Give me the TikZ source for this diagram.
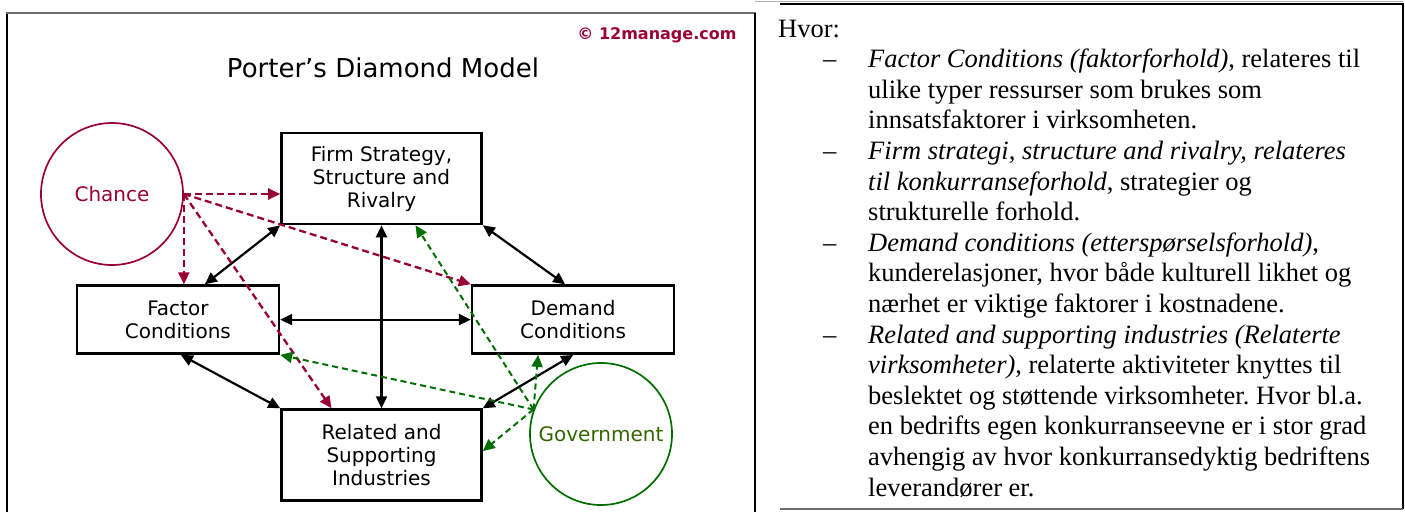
\documentclass[tikz,border=0pt]{standalone}
\usepackage{fontspec}
\setmainfont{Liberation Serif}
\setsansfont{DejaVu Sans}
\usepackage{tikz}
\usetikzlibrary{arrows.meta, positioning, calc}
\definecolor{pdRed}{RGB}{153,0,51}
\definecolor{pdGreen}{RGB}{0,110,0}
\definecolor{pdOlive}{RGB}{51,102,0}
\definecolor{pdGrey}{RGB}{110,110,110}
\frenchspacing

\begin{document}
\begin{tikzpicture}[x=1pt,y=-1pt,font=\sffamily\fontsize{20}{23}\selectfont,
  B/.style={draw=black,line width=2.6pt,align=center,inner sep=0pt,
            minimum width=200pt,minimum height=91pt},
  C/.style={circle,line width=1.7pt,minimum size=142pt,inner sep=0pt},
  arr/.style={{Triangle[length=12pt,width=11pt]}-{Triangle[length=12pt,width=11pt]},
              line width=2.2pt},
  chc/.style={-{Triangle[length=12pt,width=11pt]},line width=2.3pt,draw=pdRed,
              dash pattern=on 7pt off 4pt},
  gov/.style={-{Triangle[length=12pt,width=11pt]},line width=2pt,draw=pdGreen,
              dash pattern=on 6pt off 4pt}]
\useasboundingbox (0,0) rectangle (1405,512);

% frames
\draw[line width=2pt] (7,512) -- (7,13);
\draw[pdGrey,line width=2pt] (6,13) -- (756,13);
\draw[line width=1.6pt] (755,13) -- (755,512);
\draw[black!30,line width=1pt] (755,1.5) -- (1403,1.5);
\draw[line width=2pt] (780,3.5) -- (1403,3.5) -- (1403,509);
\draw[pdGrey,line width=2pt] (780,509) -- (1403,509);

% diamond
\node[pdRed,anchor=east,font=\sffamily\bfseries\fontsize{16}{18}\selectfont]
  (Copy) at (740,35) {\textcopyright\ 12manage.com};
\node[font=\sffamily\fontsize{26}{30}\selectfont] (Title) at (383,68)
  {Porter’s Diamond Model};

\node[B] (Firm) at (381.5,178.5) {Firm Strategy,\\Structure and\\Rivalry};
\node[B,minimum width=202pt,minimum height=68pt,
      below left=59pt and 0pt of Firm] (Factor) {Factor\\Conditions};
\node[B,minimum width=202pt,minimum height=68pt,
      below right=59pt and -12pt of Firm] (Demand) {Demand\\Conditions};
\node[B,below=183pt of Firm] (Related) {Related and\\Supporting\\Industries};

\node[C,draw=pdRed,text=pdRed] (Chance) at (112,194) {Chance};
\node[C,draw=pdGreen,text=pdOlive] (Gov) at (601,434) {Government};

\draw[arr] (Firm.south west) -- ([xshift=27pt]Factor.north);
\draw[arr] (Firm.south east) -- ([xshift=-8pt]Demand.north);
\draw[arr] ([xshift=3pt]Factor.south) -- (Related.north west);
\draw[arr] (Demand.south) -- (Related.north east);
\draw[arr] (Firm.south) -- (Related.north);
\draw[arr] (Factor.east) -- (Demand.west);

% chance
\draw[chc] (Chance.east) -- (Chance.east -| Firm.west);
\draw[chc] (Chance.east) -- (Chance.east |- Factor.north);
\draw[chc] (Chance.east) -- (Demand.north west);
\draw[chc] (Chance.east) -- ([xshift=-50pt]Related.north);

% government
\coordinate (GovOut) at (Gov.160);
\draw[gov] (GovOut) -- ([xshift=34pt]Firm.south);
\draw[gov] (GovOut) -- ([xshift=-35pt]Demand.south);
\draw[gov] (GovOut) -- (Factor.south east);
\draw[gov] (GovOut) -- ([yshift=4pt]Related.east);

% notes
\node[anchor=north west,inner sep=0pt,align=left,
      font=\rmfamily\fontsize{26.5}{30.6}\selectfont] (Notes) at (778,19.5)
  {Hvor:\\
   \hspace*{45pt}\makebox[45pt][l]{–}\textit{Factor Conditions (faktorforhold)}, relateres til\\
   \hspace*{90pt}ulike typer ressurser som brukes som\\
   \hspace*{90pt}innsatsfaktorer i virksomheten.\\
   \hspace*{45pt}\makebox[45pt][l]{–}\textit{Firm strategi, structure and rivalry, relateres}\\
   \hspace*{90pt}\textit{til konkurranseforhold}, strategier og\\
   \hspace*{90pt}strukturelle forhold.\\
   \hspace*{45pt}\makebox[45pt][l]{–}\textit{Demand conditions (etterspørselsforhold)},\\
   \hspace*{90pt}kunderelasjoner, hvor både kulturell likhet og\\
   \hspace*{90pt}nærhet er viktige faktorer i kostnadene.\\
   \hspace*{45pt}\makebox[45pt][l]{–}\textit{Related and supporting industries (Relaterte}\\
   \hspace*{90pt}\textit{virksomheter)}, relaterte aktiviteter knyttes til\\
   \hspace*{90pt}beslektet og støttende virksomheter. Hvor bl.a.\\
   \hspace*{90pt}en bedrifts egen konkurranseevne er i stor grad\\
   \hspace*{90pt}avhengig av hvor konkurransedyktig bedriftens\\
   \hspace*{90pt}leverandører er.};
\end{tikzpicture}
\end{document}
